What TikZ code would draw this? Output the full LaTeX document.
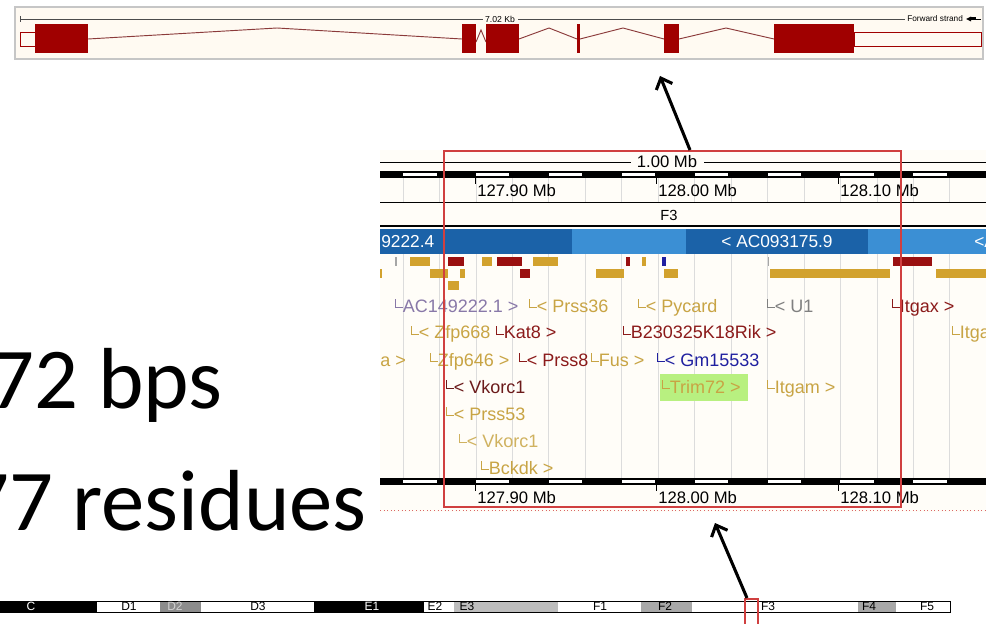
\documentclass[tikz,border=0pt]{standalone}
\usepackage{fontspec}
\setmainfont{Liberation Sans}
\newfontfamily\bigfont{Carlito}
\usetikzlibrary{arrows.meta}

\definecolor{exonred}{HTML}{A00000}
\definecolor{intron}{HTML}{8B3A3A}
\definecolor{panelbg}{HTML}{FFFAF2}
\definecolor{midbg}{HTML}{FFFDF8}
\definecolor{gold}{HTML}{D2A22E}
\definecolor{goldtxt}{HTML}{C8A444}
\definecolor{darkred}{HTML}{9A1010}
\definecolor{dredtxt}{HTML}{8B1A1A}
\definecolor{maroon}{HTML}{6B1A1A}
\definecolor{bluetxt}{HTML}{2020A0}
\definecolor{violet}{HTML}{8878A8}
\definecolor{graytxt}{HTML}{808080}
\definecolor{barDark}{HTML}{1B62A8}
\definecolor{barLight}{HTML}{3B8FD4}
\definecolor{boxred}{HTML}{D04040}
\definecolor{gridgray}{HTML}{DCDCDC}
\definecolor{trimgreen}{HTML}{B8F080}
\definecolor{bandgray}{HTML}{8C8C8C}
\definecolor{bandlight}{HTML}{BDBDBD}
\definecolor{bandmid}{HTML}{A8A8A8}

% small corner mark that precedes each gene name
\newcommand\gcorner{\rlap{\rule[0.4ex]{0.06em}{1ex}}\rule[0.4ex]{0.42em}{0.06em}}

% contig-scale ruler: black bar with white dashes, at a given top y
\newcommand\rulerbar[1]{%
  \fill[black] (380,#1) rectangle (986,#1+7);
  \foreach \k in {0,...,7}
    \fill[white] ({403+72.9*\k},#1+2) rectangle ({436.5+72.9*\k},#1+5);
  \foreach \t in {475,656.5,838}
    \draw[line width=0.6pt] (\t,#1+7) -- (\t,#1+13);
}

\tikzset{
  glabel/.style={anchor=base west, inner sep=0pt, font=\fontsize{13.5}{15}\selectfont},
  mblabel/.style={anchor=base west, inner sep=0pt, font=\fontsize{12.5}{14}\selectfont},
  bandlabel/.style={inner sep=0pt, font=\fontsize{9}{10}\selectfont},
  bigtext/.style={anchor=base east, inner sep=0pt, font=\bigfont\fontsize{65}{70}\selectfont},
  intronline/.style={intron, line width=0.7pt},
  zoomarrow/.style={line width=2.3pt, -{Straight Barb[length=7pt,width=13pt,line width=2.3pt]}},
}

\begin{document}
\begin{tikzpicture}[x=0.75pt, y=-0.75pt]
\useasboundingbox (0,0) rectangle (986,624);
\clip (0,0) rectangle (986,624);
\fill[white] (0,0) rectangle (986,624);

% ---------------- transcript view ----------------
\fill[panelbg, draw=gray!45, line width=0.8pt] (15,7) rectangle (983,59);
\draw[gray!60!black, line width=0.5pt] (20,19) -- (483,19);
\draw[gray!60!black, line width=0.5pt] (518,19) -- (905,19);
\draw[gray!60!black, line width=0.5pt] (20,16) -- (20,22);
\node[inner sep=0pt, font=\fontsize{6.5}{7}\selectfont] (kb) at (500,19) {7.02 Kb};
\node[anchor=west, inner sep=0pt, font=\fontsize{6.2}{7}\selectfont] (fwd) at (907,19) {Forward strand};
\fill (966,19) -- (971,16.5) -- (971,21.5) -- cycle;
\fill (971,17.5) rectangle (976,20.5);
\draw[line width=0.5pt] (976,19) -- (981,19);

% UTRs
\draw[exonred, fill=panelbg, line width=0.6pt] (20,32) rectangle (35,46);
\draw[exonred, fill=panelbg, line width=0.6pt] (854,32) rectangle (981,46);
% introns
\draw[intronline] (88,39) -- (277,28) -- (462,39);
\draw[intronline] (476,42) -- (481,30) -- (486,42);
\draw[intronline] (519,39) -- (549,28) -- (577,39);
\draw[intronline] (580,39) -- (623,28) -- (664,39);
\draw[intronline] (679,39) -- (726,28) -- (774,39);
% exons
\fill[exonred] (35,24) rectangle (88,53);
\fill[exonred] (462,24) rectangle (476,53);
\fill[exonred] (486,24) rectangle (519,53);
\fill[exonred] (577,24) rectangle (580,53);
\fill[exonred] (664,24) rectangle (679,53);
\fill[exonred] (774,24) rectangle (854,53);

% ---------------- region view ----------------
\fill[midbg] (380,150) rectangle (986,512);

% grid lines
\foreach \k in {0,...,16} {
  \draw[gridgray, line width=0.5pt] ({403+36.45*\k},178) -- ({403+36.45*\k},202);
  \draw[gridgray, line width=0.5pt] ({403+36.45*\k},254) -- ({403+36.45*\k},478);
}

% top scale
\draw[line width=0.6pt] (380,162) -- (631,162);
\draw[line width=0.6pt] (704,162) -- (986,162);
\node[inner sep=0pt, font=\fontsize{12.5}{14}\selectfont] (mb) at (667,162) {1.00 Mb};
\rulerbar{171}
\node[mblabel] at (477,197) {127.90 Mb};
\node[mblabel] at (658,197) {128.00 Mb};
\node[mblabel] at (840,197) {128.10 Mb};
\draw[line width=0.6pt] (380,202) -- (986,202);
\node[inner sep=0pt, font=\fontsize{11}{12}\selectfont] (band) at (669,215) {F3};
\draw[line width=1.1pt] (380,226) -- (986,226);

% clone contigs
\fill[barDark] (380,229) rectangle (572,254);
\fill[barLight] (572,229) rectangle (686,254);
\fill[barDark] (686,229) rectangle (868,254);
\fill[barLight] (868,229) rectangle (986,254);
\node[anchor=west, inner sep=0pt, text=white, font=\fontsize{13}{14}\selectfont] at (381,241.5) {9222.4};
\node[inner sep=0pt, text=white, font=\fontsize{13}{14}\selectfont] at (777,241.5) {< AC093175.9};
\node[anchor=west, inner sep=0pt, text=white, font=\fontsize{13}{14}\selectfont] at (974,241.5) {<A};

% gene features, row 1
\fill[gray!70] (395,257) rectangle (397,266);
\fill[gold] (410,257) rectangle (430,266);
\fill[darkred] (448,257) rectangle (464,266);
\fill[gold] (482,257) rectangle (492,266);
\fill[darkred] (497,257) rectangle (522,266);
\fill[gold] (533,257) rectangle (558,266);
\fill[darkred] (626,257) rectangle (630,266);
\fill[gold] (642,257) rectangle (646,266);
\fill[bluetxt] (662,257) rectangle (666,266);
\fill[gray!70] (767.5,257) rectangle (768.5,266);
\fill[darkred] (893,257) rectangle (932,266);
% row 2
\fill[gold] (380,269) rectangle (382,278);
\fill[gold] (430,269) rectangle (448,278);
\fill[gold] (460,269) rectangle (465,278);
\fill[darkred] (520,269) rectangle (530,278);
\fill[gold] (596,269) rectangle (624,278);
\fill[gold] (664,269) rectangle (678,278);
\fill[gold] (770,269) rectangle (890,278);
\fill[gold] (936,269) rectangle (986,278);
% row 3
\fill[gold] (448,281) rectangle (459,290);

% gene names
\node[glabel, text=violet] at (395,312) {\gcorner AC149222.1 >};
\node[glabel, text=goldtxt] at (529,312) {\gcorner< Prss36};
\node[glabel, text=goldtxt] at (638,312) {\gcorner< Pycard};
\node[glabel, text=graytxt] at (767,312) {\gcorner< U1};
\node[glabel, text=dredtxt] at (892,312) {\gcorner Itgax >};

\node[glabel, text=goldtxt] at (411,339) {\gcorner< Zfp668};
\node[glabel, text=dredtxt] at (496,339) {\gcorner Kat8 >};
\node[glabel, text=dredtxt] at (623,339) {\gcorner B230325K18Rik >};
\node[glabel, text=goldtxt] at (952,339) {\gcorner Itgad};

\node[glabel, text=goldtxt] at (380,366) {a >};
\node[glabel, text=goldtxt] at (430,366) {\gcorner Zfp646 >};
\node[glabel, text=dredtxt] at (519,366) {\gcorner< Prss8};
\node[glabel, text=goldtxt] at (591,366) {\gcorner Fus >};
\node[glabel, text=bluetxt] at (657,366) {\gcorner< Gm15533};

\fill[trimgreen] (660,374) rectangle (748,401);
\node[glabel, text=maroon] at (446,393) {\gcorner< Vkorc1};
\node[glabel, text=goldtxt] at (662,393) {\gcorner Trim72 >};
\node[glabel, text=goldtxt] at (767,393) {\gcorner Itgam >};

\node[glabel, text=goldtxt] at (446,420) {\gcorner< Prss53};
\node[glabel, text=goldtxt!85!white] at (459,447) {\gcorner< Vkorc1};
\node[glabel, text=goldtxt] at (481,474) {\gcorner Bckdk >};

% bottom scale
\rulerbar{478}
\node[mblabel] at (477,503) {127.90 Mb};
\node[mblabel] at (658,503) {128.00 Mb};
\node[mblabel] at (840,503) {128.10 Mb};
\draw[boxred!80, dotted, line width=0.7pt] (380,510.5) -- (986,510.5);

% selected window
\draw[boxred, line width=0.9pt] (444,151) rectangle (901,507);

% ---------------- chromosome ideogram ----------------
\fill[black] (0,601) rectangle (97,612);
\fill[white] (97,601) rectangle (160,612);
\fill[bandgray] (160,601) rectangle (201,612);
\fill[white] (201,601) rectangle (314,612);
\fill[black] (314,601) rectangle (424,612);
\fill[white] (424,601) rectangle (454,612);
\fill[bandlight] (454,601) rectangle (558,612);
\fill[white] (558,601) rectangle (641,612);
\fill[bandmid] (641,601) rectangle (692,612);
\fill[white] (692,601) rectangle (858,612);
\fill[bandmid] (858,601) rectangle (896,612);
\fill[white] (896,601) rectangle (950,612);
\draw[line width=0.6pt] (0,601) rectangle (950,612);
\node[bandlabel, text=white] at (31,606.5) {C};
\node[bandlabel] at (129,606.5) {D1};
\node[bandlabel, text=gray!35] at (175,606.5) {D2};
\node[bandlabel] at (258,606.5) {D3};
\node[bandlabel, text=white] at (372,606.5) {E1};
\node[bandlabel] at (435,606.5) {E2};
\node[bandlabel] at (467,606.5) {E3};
\node[bandlabel] at (600,606.5) {F1};
\node[bandlabel] at (665,606.5) {F2};
\node[bandlabel] at (768,606.5) {F3};
\node[bandlabel] at (869,606.5) {F4};
\node[bandlabel] at (927,606.5) {F5};
\draw[boxred, line width=0.8pt] (745,599) rectangle (758,630);

% ---------------- size summary ----------------
\node[bigtext] (bps) at (223,408) {72 bps};
\node[bigtext] (res) at (367,530) {77 residues};

% ---------------- zoom arrows ----------------
\coordinate (regionTop) at (690,150);
\coordinate (geneView) at (660,76);
\coordinate (bandMark) at (747,598);
\coordinate (regionBottom) at (715,523);
\draw[zoomarrow] (regionTop) -- (geneView);
\draw[zoomarrow] (bandMark) -- (regionBottom);
\end{tikzpicture}
\end{document}
